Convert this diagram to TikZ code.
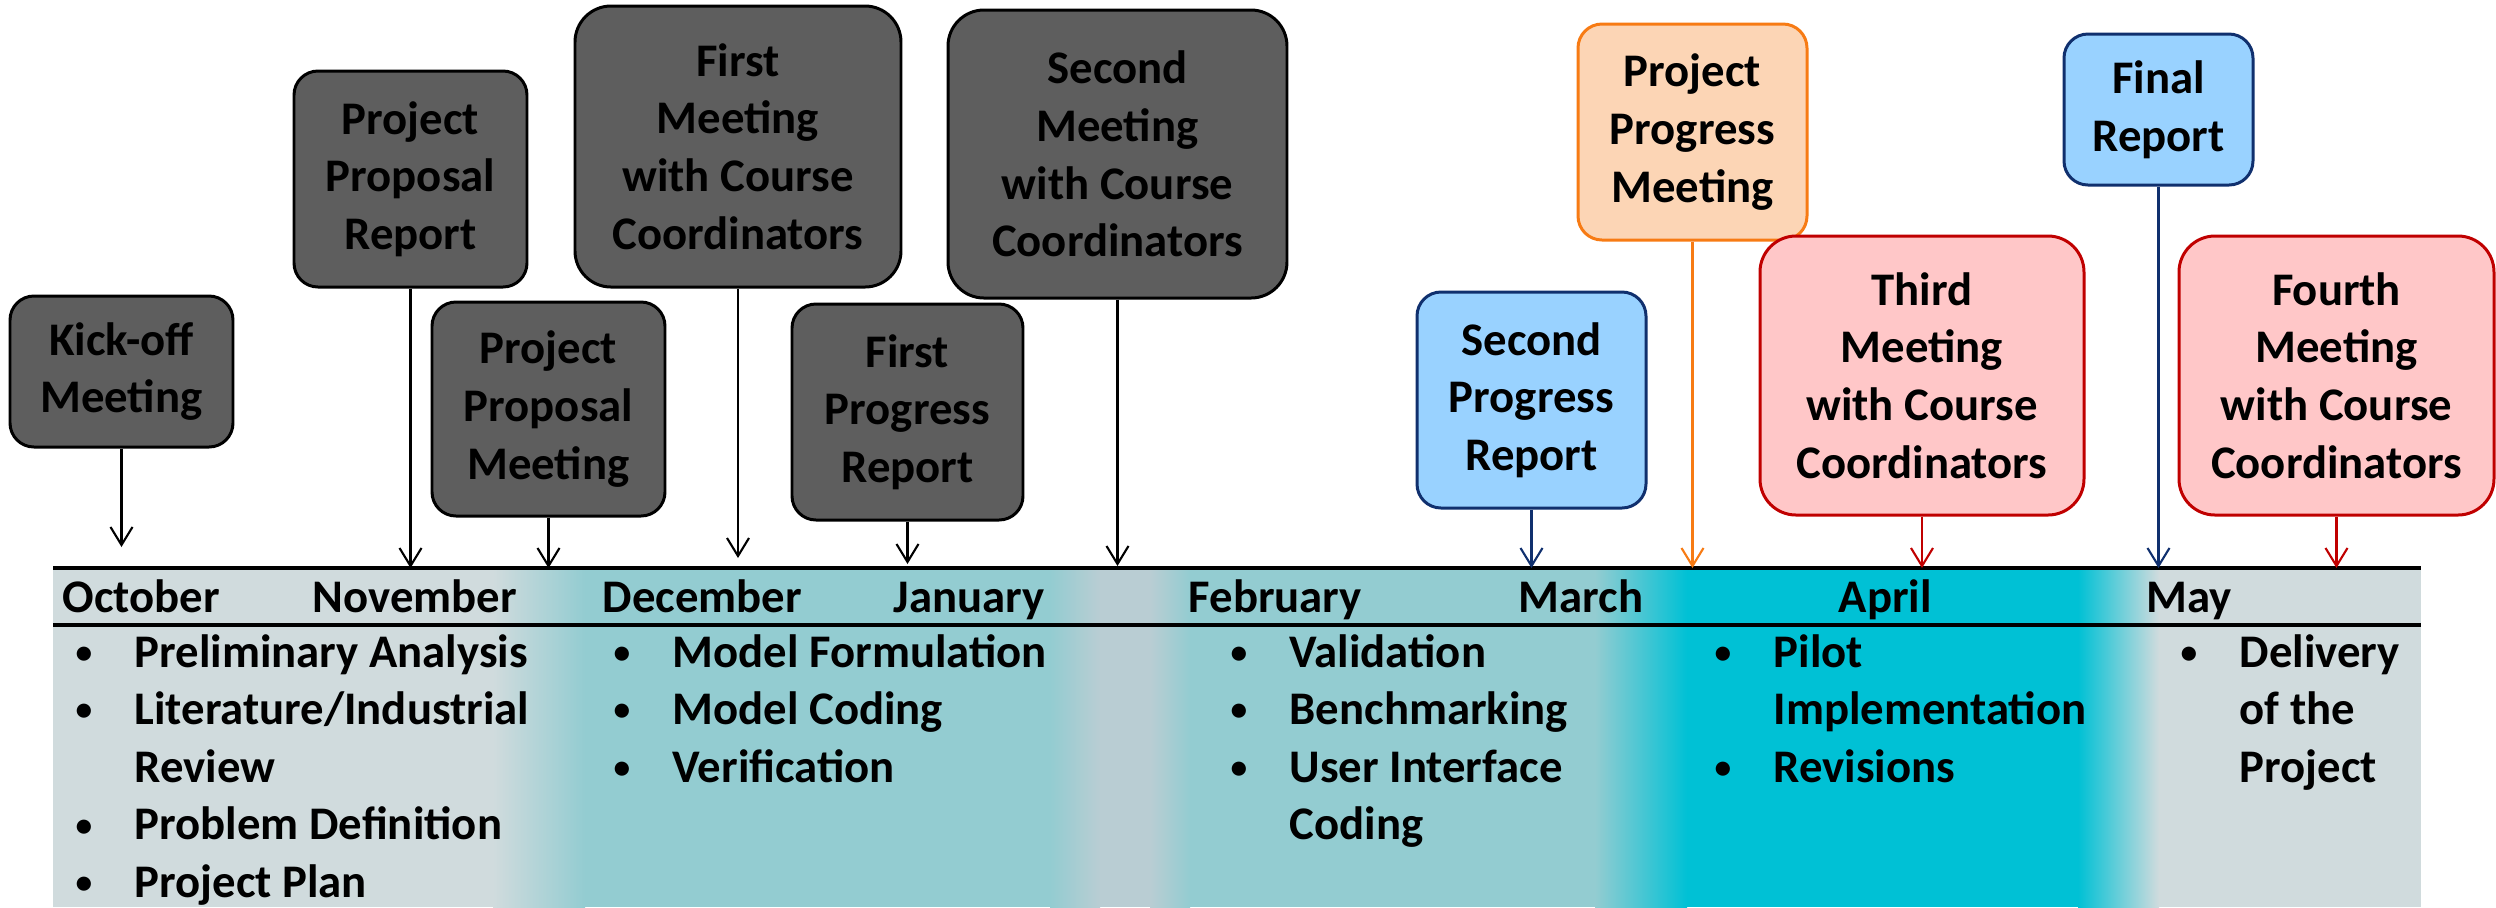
\documentclass[tikz,border=0pt]{standalone}
\usepackage{fontspec}
\setmainfont{Carlito}
\usetikzlibrary{arrows.meta}

\definecolor{boxgray}{HTML}{5E5E5E}
\definecolor{repfill}{HTML}{99D2FF}
\definecolor{repline}{HTML}{10306E}
\definecolor{pmfill}{HTML}{FCD5B5}
\definecolor{pmline}{HTML}{F77B14}
\definecolor{ccfill}{HTML}{FFC7C8}
\definecolor{ccline}{HTML}{C00000}
\definecolor{bandgray}{HTML}{D0DBDD}
\definecolor{bandteal}{HTML}{93CCD1}
\definecolor{bandblue}{HTML}{B9CDD3}
\definecolor{bandcyan}{HTML}{00C1D5}

\newcommand{\tbul}{\raisebox{1.1pt}{\fontsize{9.5}{9.5}\selectfont\textbullet}}

\begin{document}
\begin{tikzpicture}[x=0.1mm,y=-0.1mm,
    font=\bfseries\fontsize{13.3}{16.4}\selectfont,
    event/.style={draw,line width=0.85pt,rounded corners=2.4mm,align=center,inner sep=0pt},
    bigevent/.style={event,rounded corners=3.6mm},
    dark/.style={fill=boxgray},
    report/.style={draw=repline,fill=repfill},
    progmeet/.style={draw=pmline,fill=pmfill},
    coord/.style={draw=ccline,fill=ccfill},
    evarrow/.style={line width=0.6pt,-{Straight Barb[length=1.8mm,width=2.2mm]}}]
  \useasboundingbox (0,0) rectangle (2496,907);

  % band under the time line
  \fill[bandgray] (53,568) rectangle (493,907);
  \shade[left color=bandgray,right color=bandteal] (493,568) rectangle (585,907);
  \fill[bandteal] (585,568) rectangle (1050,907);
  \shade[left color=bandteal,right color=bandblue] (1050,568) rectangle (1100,907);
  \fill[bandblue] (1100,568) rectangle (1150,907);
  \shade[left color=bandblue,right color=bandteal] (1150,568) rectangle (1190,907);
  \fill[bandteal] (1190,568) rectangle (1595,907);
  \shade[left color=bandteal,right color=bandcyan] (1595,568) rectangle (1687,907);
  \fill[bandcyan] (1687,568) rectangle (2078,907);
  \shade[left color=bandcyan,right color=bandgray] (2078,568) rectangle (2159,907);
  \fill[bandgray] (2159,568) rectangle (2421,907);
  \draw[line width=1pt] (53,568) -- (2421,568);
  \draw[line width=1pt] (53,625) -- (2421,625);

  % months
  \node[anchor=base west,inner sep=0pt] (oct) at (62,612) {October};
  \node[anchor=base west,inner sep=0pt] (nov) at (312,612) {November};
  \node[anchor=base west,inner sep=0pt] (dec) at (602,612) {December};
  \node[anchor=base west,inner sep=0pt] (jan) at (893,612) {January};
  \node[anchor=base west,inner sep=0pt] (feb) at (1188,612) {February};
  \node[anchor=base west,inner sep=0pt] (mar) at (1518,612) {March};
  \node[anchor=base west,inner sep=0pt] (apr) at (1838,612) {April};
  \node[anchor=base west,inner sep=0pt] (may) at (2146,612) {May};

  % tasks
  \node[anchor=base west,inner sep=0pt] (tasks1) at (75,667) {\begin{tabular}[t]{@{}p{5.9mm}@{}l@{}}
    \tbul & Preliminary Analysis\\
    \tbul & Literature/Industrial\\
          & Review\\
    \tbul & Problem Definition\\
    \tbul & Project Plan
  \end{tabular}};
  \node[anchor=base west,inner sep=0pt] (tasks2) at (613,667) {\begin{tabular}[t]{@{}p{5.9mm}@{}l@{}}
    \tbul & Model Formulation\\
    \tbul & Model Coding\\
    \tbul & Verification
  \end{tabular}};
  \node[anchor=base west,inner sep=0pt] (tasks3) at (1230,667) {\begin{tabular}[t]{@{}p{5.9mm}@{}l@{}}
    \tbul & Validation\\
    \tbul & Benchmarking\\
    \tbul & User Interface\\
          & Coding
  \end{tabular}};
  \node[anchor=base west,inner sep=0pt] (tasks4) at (1714,667) {\begin{tabular}[t]{@{}p{5.9mm}@{}l@{}}
    \tbul & Pilot\\
          & Implementation\\
    \tbul & Revisions
  \end{tabular}};
  \node[anchor=base west,inner sep=0pt] (tasks5) at (2180,667) {\begin{tabular}[t]{@{}p{5.9mm}@{}l@{}}
    \tbul & Delivery\\
          & of the\\
          & Project
  \end{tabular}};

  % events
  \node[event,dark,minimum width=22.3mm,minimum height=15.1mm] (kick) at (121.5,371.5) {Kick-off\\Meeting};
  \node[event,dark,minimum width=23.3mm,minimum height=21.6mm] (propRep) at (410.5,179) {Project\\Proposal\\Report};
  \node[event,dark,minimum width=23.3mm,minimum height=21.4mm] (propMeet) at (548.5,409) {Project\\Proposal\\Meeting};
  \node[bigevent,dark,minimum width=32.6mm,minimum height=28.1mm] (meet1) at (738,146.5) {First\\Meeting\\with Course\\Coordinators};
  \node[event,dark,minimum width=23.1mm,minimum height=21.6mm] (prog1) at (907.5,412) {First\\Progress\\Report};
  \node[bigevent,dark,minimum width=33.9mm,minimum height=28.8mm] (meet2) at (1117.5,154) {Second\\Meeting\\with Course\\Coordinators};
  \node[event,report,minimum width=22.9mm,minimum height=21.6mm] (prog2) at (1531.5,400) {Second\\Progress\\Report};
  \node[event,progmeet,minimum width=22.9mm,minimum height=21.6mm] (progMeet) at (1692.5,132) {Project\\Progress\\Meeting};
  \node[bigevent,coord,minimum width=32.4mm,minimum height=27.9mm] (meet3) at (1922,375.5) {Third\\Meeting\\with Course\\Coordinators};
  \node[event,report,minimum width=18.9mm,minimum height=15.1mm] (final) at (2158.5,109.5) {Final\\Report};
  \node[bigevent,coord,minimum width=31.5mm,minimum height=27.9mm] (meet4) at (2336.5,375.5) {Fourth\\Meeting\\with Course\\Coordinators};

  \coordinate (kickT) at (121.5,547);
  \coordinate (propRepT) at (410.5,568);
  \coordinate (propMeetT) at (548.5,568);
  \coordinate (meet1T) at (738,558);
  \coordinate (prog1T) at (907.5,564);
  \coordinate (meet2T) at (1117.5,566);
  \coordinate (prog2T) at (1531.5,568);
  \coordinate (progMeetT) at (1692.5,568);
  \coordinate (meet3T) at (1922,568);
  \coordinate (finalT) at (2158.5,568);
  \coordinate (meet4T) at (2336.5,568);

  \draw[evarrow] (kick) -- (kickT);
  \draw[evarrow] (propRep) -- (propRepT);
  \draw[evarrow] (propMeet) -- (propMeetT);
  \draw[evarrow] (meet1) -- (meet1T);
  \draw[evarrow] (prog1) -- (prog1T);
  \draw[evarrow] (meet2) -- (meet2T);
  \draw[evarrow,repline] (prog2) -- (prog2T);
  \draw[evarrow,pmline] (progMeet) -- (progMeetT);
  \draw[evarrow,ccline] (meet3) -- (meet3T);
  \draw[evarrow,repline] (final) -- (finalT);
  \draw[evarrow,ccline] (meet4) -- (meet4T);
\end{tikzpicture}
\end{document}
